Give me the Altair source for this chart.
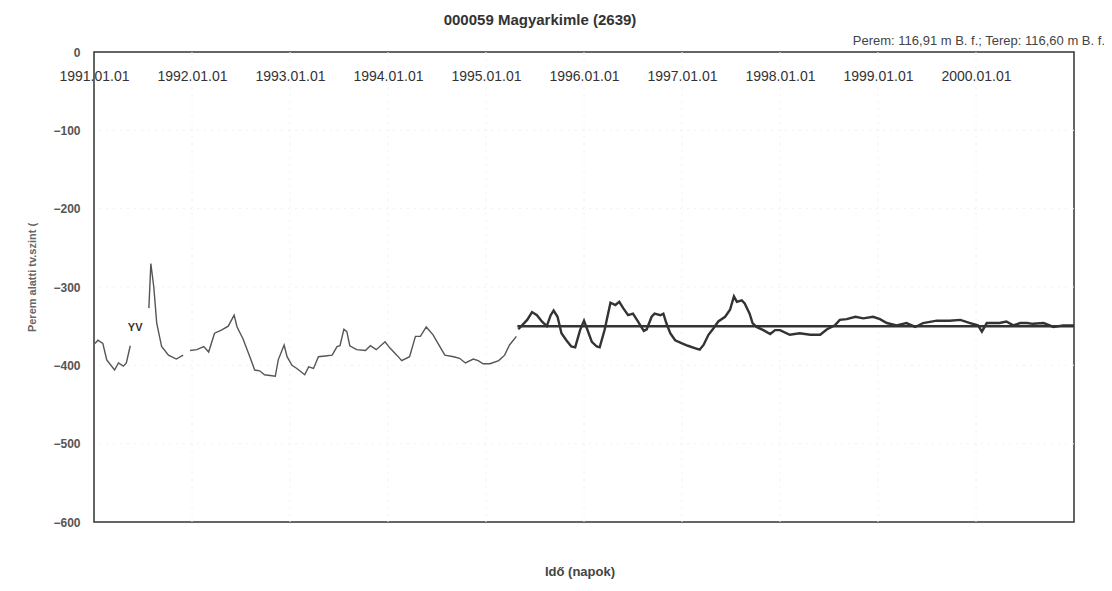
import altair as alt
import pandas as pd

# ---- data ----
# thin line (measured level), three segments separated by gaps
a_seg = [1] * 9 + [2] * 8 + [3] * 57
a_year = [1991.01, 1991.04, 1991.09, 1991.13, 1991.21, 1991.25, 1991.30, 1991.33, 1991.37,
          1991.56, 1991.58, 1991.61, 1991.64, 1991.69, 1991.76, 1991.84, 1991.91,
          1991.98, 1992.05, 1992.12, 1992.17, 1992.23, 1992.30, 1992.37, 1992.43, 1992.46,
          1992.52, 1992.59, 1992.64, 1992.69, 1992.74, 1992.85, 1992.88, 1992.94, 1992.97,
          1993.02, 1993.07, 1993.15, 1993.19, 1993.24, 1993.29, 1993.36, 1993.43, 1993.48,
          1993.51, 1993.55, 1993.58, 1993.61, 1993.68, 1993.77, 1993.82, 1993.88, 1993.97,
          1994.02, 1994.09, 1994.14, 1994.22, 1994.28, 1994.33, 1994.39, 1994.46, 1994.51,
          1994.58, 1994.67, 1994.73, 1994.79, 1994.87, 1994.92, 1994.97, 1995.04, 1995.13,
          1995.19, 1995.24, 1995.31]
a_val = [-372, -368, -372, -393, -406, -397, -401, -397, -375,
         -327, -270, -300, -346, -376, -387, -392, -387,
         -381, -380, -376, -383, -359, -355, -350, -336, -351,
         -366, -389, -406, -407, -412, -414, -393, -374, -389,
         -400, -404, -412, -402, -404, -389, -388, -387, -376,
         -375, -354, -357, -375, -380, -381, -375, -380, -370,
         -378, -387, -394, -389, -363, -363, -351, -361, -372,
         -387, -389, -391, -397, -392, -394, -398, -398, -394,
         -387, -374, -363]

# thick line (later record)
b_year = [1995.33, 1995.42, 1995.47, 1995.52, 1995.57, 1995.62, 1995.66, 1995.69, 1995.73,
          1995.77, 1995.82, 1995.87, 1995.91, 1995.96, 1996.00, 1996.03, 1996.08, 1996.13,
          1996.16, 1996.21, 1996.27, 1996.32, 1996.36, 1996.40, 1996.45, 1996.50, 1996.55,
          1996.61, 1996.64, 1996.69, 1996.72, 1996.78, 1996.81, 1996.84, 1996.88, 1996.93,
          1997.00, 1997.06, 1997.13, 1997.18, 1997.22, 1997.27, 1997.32, 1997.37, 1997.44,
          1997.49, 1997.53, 1997.56, 1997.61, 1997.64, 1997.69, 1997.72, 1997.76, 1997.83,
          1997.90, 1997.95, 1998.00, 1998.10, 1998.20, 1998.31, 1998.41, 1998.48, 1998.56,
          1998.61, 1998.68, 1998.77, 1998.85, 1998.95, 1999.02, 1999.09, 1999.19, 1999.29,
          1999.38, 1999.46, 1999.60, 1999.73, 1999.84, 1999.94, 2000.02, 2000.06, 2000.11,
          2000.24, 2000.31, 2000.38, 2000.45, 2000.52, 2000.58, 2000.69, 2000.79, 2000.89,
          2001.00]
b_val = [-354, -342, -332, -336, -344, -350, -336, -330, -338,
         -359, -368, -376, -377, -355, -343, -353, -370, -376,
         -377, -355, -320, -323, -319, -327, -336, -334, -344,
         -356, -354, -338, -334, -336, -334, -346, -359, -368,
         -372, -375, -378, -380, -374, -361, -353, -344, -338,
         -329, -312, -319, -317, -321, -334, -346, -351, -355,
         -360, -355, -355, -361, -359, -361, -361, -354, -349,
         -342, -341, -338, -340, -338, -341, -346, -349, -346,
         -351, -346, -343, -343, -342, -346, -349, -357, -346,
         -346, -344, -349, -346, -346, -347, -346, -351, -349,
         -349]

# flat reference level
ref_year = [1995.32, 2001.0]
ref_val = [-350, -350]

x_ticks = [1991, 1992, 1993, 1994, 1995, 1996, 1997, 1998, 1999, 2000]
y_ticks = [0, -100, -200, -300, -400, -500, -600]
grid_x = [1992, 1993, 1994, 1995, 1996, 1997, 1998, 1999, 2000]
grid_y = [-100, -200, -300, -400, -500]

mark_text = ["YV"]
mark_year = [1991.42]
mark_val = [-352]

title_text = "000059 Magyarkimle (2639)"
info_text = "Perem: 116,91 m B. f.; Terep: 116,60 m B. f."
x_title = "Idő (napok)"
y_title = "Perem alatti tv.szint ("

FONT = "Liberation Sans"

df_a = pd.DataFrame({"ev": a_year, "szint": a_val, "szakasz": a_seg})
df_b = pd.DataFrame({"ev": b_year, "szint": b_val})
df_ref = pd.DataFrame({"ev": ref_year, "szint": ref_val})
df_gx = pd.DataFrame({"ev": grid_x})
df_gy = pd.DataFrame({"szint": grid_y})
df_mark = pd.DataFrame({"ev": mark_year, "szint": mark_val, "t": mark_text})

xscale = alt.Scale(domain=[1991, 2001], nice=False, zero=False)
yscale = alt.Scale(domain=[-600, 0], nice=False, zero=False)

x_enc = alt.X(
    "ev:Q", scale=xscale,
    axis=alt.Axis(orient="top", values=x_ticks, labelExpr="datum.value + '.01.01'",
                  title=None, ticks=False, domain=False, grid=False, offset=-33,
                  labelPadding=2, labelFontSize=14, labelColor="#333", labelFont=FONT,
                  labelOverlap=False, labelBound=False, labelFlush=False),
)
y_enc = alt.Y(
    "szint:Q", scale=yscale,
    axis=alt.Axis(values=y_ticks, title=y_title, ticks=False, domain=False, grid=False,
                  labelPadding=14, labelFontSize=12, labelFontWeight="bold",
                  labelColor="#555", labelFont=FONT,
                  titleFont=FONT, titleFontSize=11, titleFontWeight="bold", titleColor="#666",
                  titleAngle=270, titleAlign="center", titleBaseline="middle",
                  titleX=-62, titleY=225),
)

grid_v = alt.Chart(df_gx).mark_rule(color="#f0f0f0", strokeDash=[2, 5], strokeWidth=1).encode(
    x=alt.X("ev:Q", scale=xscale))
grid_h = alt.Chart(df_gy).mark_rule(color="#f0f0f0", strokeDash=[2, 5], strokeWidth=1).encode(
    y=alt.Y("szint:Q", scale=yscale))

line_a = alt.Chart(df_a).mark_line(color="#555", strokeWidth=1.4).encode(
    x=x_enc, y=y_enc, detail="szakasz:N")
line_ref = alt.Chart(df_ref).mark_line(color="#333", strokeWidth=2.5).encode(
    x=alt.X("ev:Q", scale=xscale), y=alt.Y("szint:Q", scale=yscale))
line_b = alt.Chart(df_b).mark_line(color="#333", strokeWidth=2.4).encode(
    x=alt.X("ev:Q", scale=xscale), y=alt.Y("szint:Q", scale=yscale))
marks = alt.Chart(df_mark).mark_text(font=FONT, fontSize=11, fontWeight="bold", color="#333").encode(
    x=alt.X("ev:Q", scale=xscale), y=alt.Y("szint:Q", scale=yscale), text="t:N")

def label(txt, x, y, size, weight, color, align):
    return alt.Chart(pd.DataFrame({"t": [txt]})).mark_text(
        font=FONT, fontSize=size, fontWeight=weight, color=color, align=align, baseline="middle"
    ).encode(x=alt.value(x), y=alt.value(y), text="t:N")

t_main = label(title_text, 446, -32, 15, "bold", "#333", "center")
t_info = label(info_text, 1011, -11, 13, "normal", "#444", "right")
t_x = label(x_title, 486, 520, 13, "bold", "#444", "center")

chart = alt.layer(grid_v, grid_h, line_a, line_ref, line_b, marks, t_main, t_info, t_x).properties(
    width=980, height=470,
    autosize=alt.AutoSizeParams(type="none"),
    padding={"left": 86, "top": 44, "right": 30, "bottom": 66},
    background="white",
).configure_view(stroke="#333", strokeWidth=1.5)

chart.save("out.html", embed_options={"renderer": "svg", "actions": False})
